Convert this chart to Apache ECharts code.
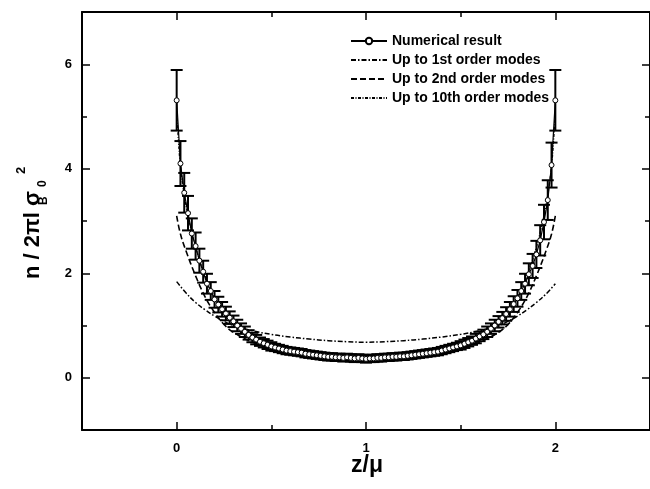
<!DOCTYPE html>
<html>
<head>
<meta charset="utf-8">
<script src="https://cdn.jsdelivr.net/npm/echarts@6/dist/echarts.min.js"></script>
<style>html,body{margin:0;padding:0;background:#fff}#c{width:650px;height:489px}</style>
</head>
<body>
<div id="c"></div>
<script>
// ---- data ----
const zStep = 0.02; // sampling grid of the numerical result (z = 0 .. 2)
const numLeft = [5.31,4.10,3.54,3.15,2.76,2.52,2.24,2.03,1.80,1.66,1.50,1.40,1.31,1.23,1.15,1.08,1.00,0.94,0.88,0.82,0.77,0.73,0.69,0.66,0.63,0.60,0.58,0.56,0.54,0.52,0.51,0.50,0.49,0.48,0.46,0.45,0.44,0.43,0.42,0.41,0.40,0.40,0.39,0.39,0.38,0.39,0.38,0.37,0.38,0.37,0.36];
const numRight = [0.37,0.37,0.38,0.38,0.39,0.39,0.40,0.40,0.41,0.41,0.42,0.43,0.44,0.45,0.46,0.47,0.48,0.49,0.50,0.52,0.54,0.56,0.58,0.60,0.62,0.65,0.68,0.71,0.75,0.79,0.83,0.88,0.94,1.00,1.07,1.14,1.22,1.31,1.41,1.52,1.66,1.80,1.98,2.14,2.36,2.63,2.98,3.40,4.07,5.31];
const errLeft = [0.58,0.43,0.38,0.33,0.29,0.26,0.23,0.21,0.19,0.17,0.16,0.15,0.14,0.13,0.12,0.11,0.11,0.10,0.10,0.09,0.09,0.09,0.08,0.08,0.08,0.08,0.07,0.07,0.07,0.07,0.07,0.07,0.07,0.07,0.07,0.07,0.07,0.07,0.07,0.07,0.07,0.07,0.07,0.07,0.07,0.07,0.07,0.07,0.07,0.07,0.07];
const errRight = [0.07,0.07,0.07,0.07,0.07,0.07,0.07,0.07,0.07,0.07,0.07,0.07,0.07,0.07,0.07,0.07,0.07,0.07,0.07,0.07,0.07,0.07,0.07,0.07,0.08,0.08,0.08,0.08,0.09,0.09,0.09,0.10,0.10,0.11,0.11,0.12,0.13,0.14,0.15,0.16,0.17,0.19,0.21,0.23,0.26,0.29,0.33,0.38,0.43,0.58];

const firstZ = [0,0.05,0.1,0.15,0.2,0.25,0.3,0.4,0.5,0.6,0.7,0.8,0.9,1.0,1.1,1.2,1.3,1.4,1.5,1.6,1.7,1.75,1.8,1.85,1.9,1.95,2.0];
const firstV = [1.84,1.62,1.44,1.30,1.18,1.08,1.00,0.90,0.83,0.78,0.74,0.71,0.69,0.68,0.69,0.71,0.74,0.78,0.83,0.90,1.00,1.08,1.18,1.30,1.44,1.60,1.80];

const secondZ = [0,0.02,0.05,0.1,0.15,0.2,0.25,0.3,0.4,0.5,0.6,0.7,0.8,0.9,1.0,1.1,1.2,1.3,1.4,1.5,1.6,1.7,1.75,1.8,1.85,1.9,1.95,1.98,2.0];
const secondV = [3.10,2.75,2.42,1.95,1.55,1.25,1.02,0.87,0.68,0.57,0.50,0.45,0.42,0.40,0.40,0.40,0.42,0.45,0.50,0.57,0.68,0.87,1.02,1.25,1.55,1.95,2.42,2.75,3.10];

const tenthZ = [0,0.01,0.02,0.04,0.06,0.08,0.1,0.15,0.2,0.25,0.3,0.4,0.5,0.6,0.7,0.8,0.9,1.0,1.1,1.2,1.3,1.4,1.5,1.6,1.7,1.75,1.8,1.85,1.9,1.92,1.94,1.96,1.98,1.99,2.0];
const tenthV = [5.10,4.50,4.05,3.50,3.10,2.78,2.50,1.95,1.55,1.27,1.07,0.80,0.63,0.53,0.47,0.42,0.39,0.38,0.39,0.42,0.47,0.53,0.63,0.80,1.07,1.27,1.55,1.95,2.50,2.78,3.10,3.50,4.05,4.50,5.10];

const xMajorTicks = [0,1,2];
const xMinorTicks = [0.5,1.5];
const yMajorTicks = [0,2,4,6];
const yMinorTicks = [1,3,5];

const legendNames = ['Numerical result','Up to 1st order modes','Up to 2nd order modes','Up to 10th order modes'];

// ---- build ----
const numV = numLeft.concat(numRight);
const numErr = errLeft.concat(errRight);
const numData = numV.map((v,i)=>[+(i*zStep).toFixed(2), v]);
const errData = numV.map((v,i)=>[+(i*zStep).toFixed(2), v-numErr[i], v+numErr[i]]);
const pair = (zs,vs)=>zs.map((z,i)=>[z,vs[i]]);

const FONT = 'Liberation Sans, Arial, sans-serif';
const black = '#000';
const hidden = {color:'rgba(0,0,0,0)', borderColor:'rgba(0,0,0,0)', borderWidth:0};

function xAx(pos, ticks, len, labels, line){
  return {type:'value', position:pos, min:-0.5, max:2.5, interval:0.5,
    axisLine:{show:line, onZero:false, lineStyle:{color:black, width:2}},
    axisTick:{show:true, inside:true, length:len, customValues:ticks, lineStyle:{color:black, width:1.5}},
    axisLabel: labels ? {show:true, customValues:ticks, margin:12, color:black, fontSize:13, fontWeight:'bold', fontFamily:FONT} : {show:false},
    splitLine:{show:false}};
}
function yAx(pos, ticks, len, labels, line){
  return {type:'value', position:pos, min:-1, max:7, interval:1,
    axisLine:{show:line, onZero:false, lineStyle:{color:black, width:2}},
    axisTick:{show:true, inside:true, length:len, customValues:ticks, lineStyle:{color:black, width:1.5}},
    axisLabel: labels ? {show:true, customValues:ticks, margin:10, color:black, fontSize:13, fontWeight:'bold', fontFamily:FONT} : {show:false},
    splitLine:{show:false}};
}

const chart = echarts.init(document.getElementById('c'), null, {renderer:'canvas'});
chart.setOption({
  backgroundColor:'#fff',
  animation:false,
  grid:{left:82, top:12, right:-2, bottom:59, containLabel:false},
  xAxis:[xAx('bottom',xMajorTicks,8,true,true), xAx('bottom',xMinorTicks,5,false,false),
         xAx('top',xMajorTicks,8,false,true), xAx('top',xMinorTicks,5,false,false)],
  yAxis:[yAx('left',yMajorTicks,8,true,true), yAx('left',yMinorTicks,5,false,false),
         yAx('right',yMajorTicks,8,false,true), yAx('right',yMinorTicks,5,false,false)],
  legend:{
    orient:'vertical', left:345, top:29, itemWidth:36, itemHeight:8, itemGap:5,
    data:legendNames,
    textStyle:{color:black, fontSize:14, fontWeight:'bold', fontFamily:FONT}
  },
  series:[
    {name:legendNames[1], type:'line', data:pair(firstZ,firstV), smooth:0.4, symbol:'none',
     itemStyle:hidden, lineStyle:{color:black, width:1.5, type:[5,2,1.5,2]}, z:2},
    {name:legendNames[2], type:'line', data:pair(secondZ,secondV), smooth:0.4, symbol:'none',
     itemStyle:hidden, lineStyle:{color:black, width:1.6, type:[6,3]}, z:2},
    {name:legendNames[3], type:'line', data:pair(tenthZ,tenthV), smooth:0.4, symbol:'none',
     itemStyle:hidden, lineStyle:{color:black, width:1.3, type:[3,1.5,1,1.5]}, z:2},
    {name:'errors', type:'custom', data:errData, encode:{x:0, y:[1,2]}, z:3,
     renderItem:function(params, api){
       const x = api.value(0);
       const lo = api.coord([x, api.value(1)]);
       const hi = api.coord([x, api.value(2)]);
       const hw = 6;
       const st = {stroke:black, lineWidth:2};
       return {type:'group', children:[
         {type:'line', shape:{x1:lo[0], y1:lo[1], x2:hi[0], y2:hi[1]}, style:st},
         {type:'line', shape:{x1:hi[0]-hw, y1:hi[1], x2:hi[0]+hw, y2:hi[1]}, style:st},
         {type:'line', shape:{x1:lo[0]-hw, y1:lo[1], x2:lo[0]+hw, y2:lo[1]}, style:st}
       ]};
     }},
    {name:legendNames[0], type:'line', data:numData, symbol:'circle', symbolSize:5, showAllSymbol:true,
     lineStyle:{color:black, width:1.2}, itemStyle:{color:'#fff', borderColor:black, borderWidth:1}, z:4}
  ],
  graphic:[
    {type:'group', x:33, y:279, rotation:Math.PI/2, children:[
      {type:'text', x:0, y:0, style:{text:'n / 2\u03c0l', font:'bold 22px '+FONT, fill:black, textAlign:'left', textVerticalAlign:'middle'}},
      {type:'text', x:74, y:11, style:{text:'B', font:'bold 12px '+FONT, fill:black, textAlign:'left', textVerticalAlign:'middle'}},
      {type:'text', x:73, y:0, style:{text:'\u03c3', font:'bold 22px '+FONT, fill:black, textAlign:'left', textVerticalAlign:'middle'}},
      {type:'text', x:92, y:10, style:{text:'0', font:'bold 12px '+FONT, fill:black, textAlign:'left', textVerticalAlign:'middle'}},
      {type:'text', x:105, y:-12, style:{text:'2', font:'bold 13px '+FONT, fill:black, textAlign:'left', textVerticalAlign:'middle'}}
    ]},
    {type:'text', x:367, y:466, style:{text:'z/\u03bc', font:'bold 23px '+FONT, fill:black, textAlign:'center', textVerticalAlign:'middle'}}
  ]
});
</script>
</body>
</html>
